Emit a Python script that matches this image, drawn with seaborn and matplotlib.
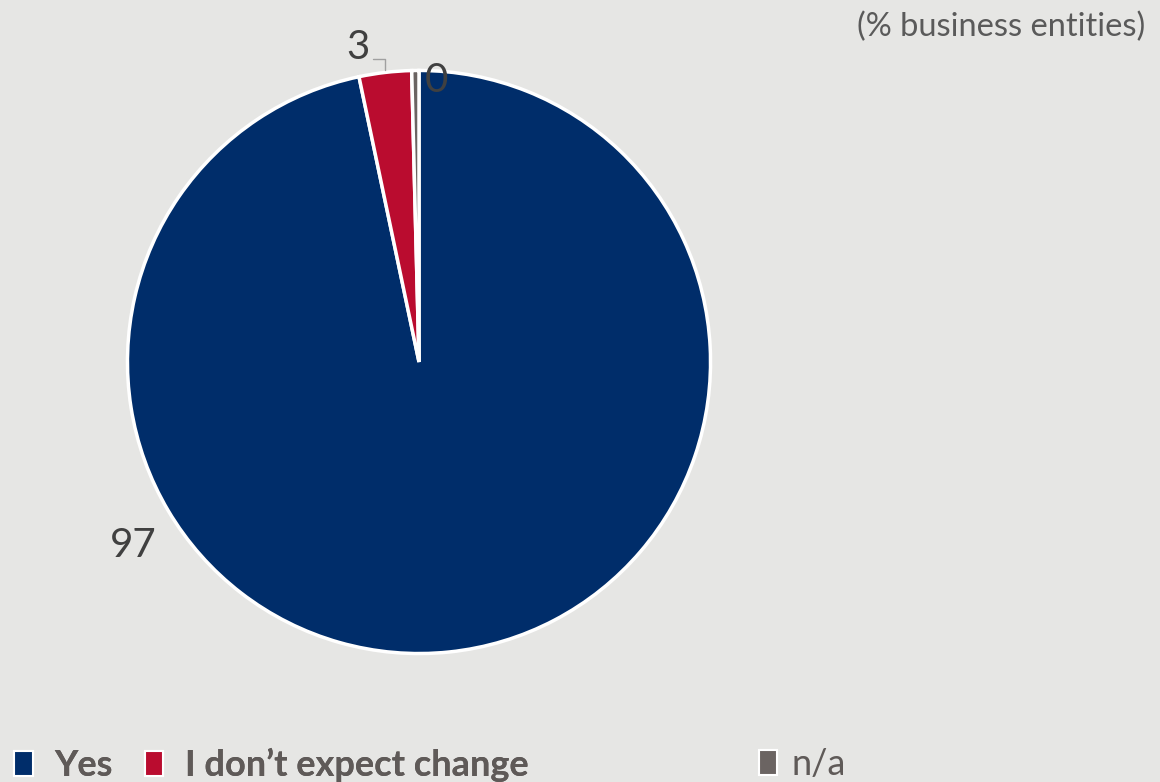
import matplotlib
matplotlib.use("Agg")
import matplotlib.pyplot as plt
from matplotlib.patches import Patch
import seaborn as sns

# Survey answers (% of business entities)
categories = ["Yes", "I don\u2019t expect change", "n/a"]
values = [96.7, 2.9, 0.4]
colors = ["#002D6A", "#BA0C2F", "#6B6462"]

# label anchor points around the pie (in units of the pie radius)
label_pos = [(-0.98, -0.63), (-0.21, 1.08), (0.06, 0.965)]

BG = "#E6E6E4"
TXT = "#404040"
LEG = "#5F5A58"
FONTS = ["Lato", "DejaVu Sans"]

sns.set_theme(style="white")
plt.rcParams["font.family"] = FONTS

fig = plt.figure(figsize=(11.6, 7.82), dpi=100, facecolor=BG)
ax = fig.add_axes([126 / 1160, (782 - 655) / 782, 586 / 1160, 586 / 782])
ax.set_facecolor(BG)

wedges, _ = ax.pie(
    values,
    colors=colors,
    startangle=90,
    counterclock=False,
    radius=1.0,
    wedgeprops=dict(edgecolor="white", linewidth=2.5),
)
ax.set_xlim(-1.005, 1.005)
ax.set_ylim(-1.005, 1.005)
ax.set_aspect("equal")
ax.axis("off")

for v, (x, y) in zip(values, label_pos):
    ax.text(x, y, f"{v:.0f}", ha="center", va="center", fontsize=29,
            color=TXT, clip_on=False)

# leader line for the small slice label
ax.plot([-0.157, -0.116, -0.116], [1.038, 1.038, 1.0], color="#A0A0A0",
        linewidth=1.0, clip_on=False)

fig.text(0.987, 0.965, "(% business entities)", ha="right", va="center",
         fontsize=23.5, color="#5A5A5A")

handles = [Patch(facecolor=c, edgecolor="white", linewidth=1.5) for c in colors]

leg1 = fig.legend(handles[:2], categories[:2], loc="center left",
                  bbox_to_anchor=(0.0, 0.022), ncols=2, frameon=False,
                  borderaxespad=0.2, borderpad=0.2,
                  handlelength=0.5, handleheight=0.7,
                  handletextpad=0.6, columnspacing=0.9,
                  prop=dict(family=FONTS, weight="bold", size=26))
for t in leg1.get_texts():
    t.set_color(LEG)
fig.add_artist(leg1)

leg2 = fig.legend(handles[2:], categories[2:], loc="center left",
                  bbox_to_anchor=(0.642, 0.022), frameon=False,
                  borderaxespad=0.2, borderpad=0.2,
                  handlelength=0.5, handleheight=0.7, handletextpad=0.4,
                  prop=dict(family=FONTS, size=26))
for t in leg2.get_texts():
    t.set_color(LEG)

fig.savefig("out.png", dpi=100, facecolor=BG)
